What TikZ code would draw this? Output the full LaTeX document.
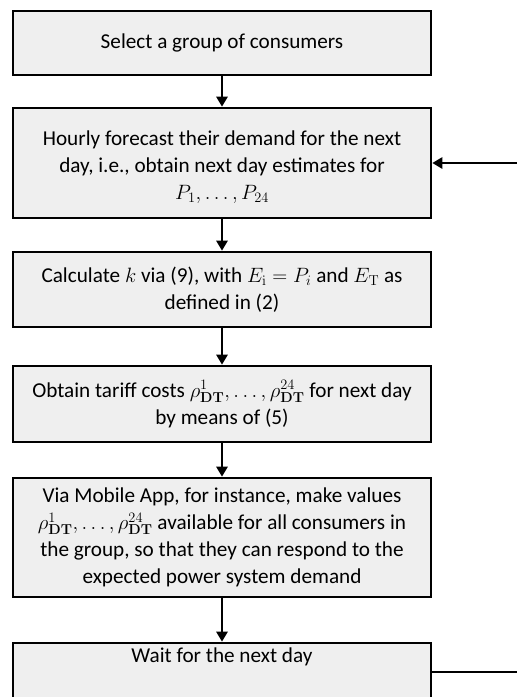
\documentclass[tikz,border=0pt]{standalone}
\usepackage[no-math]{fontspec}
\setmainfont{Carlito}
\usetikzlibrary{arrows.meta}
\definecolor{boxgray}{HTML}{EFEFEF}
\tikzset{
  boxfont/.style={font=\fontsize{21.2}{27}\selectfont},
  stepbox/.style={draw=black, fill=boxgray, line width=2.6pt, minimum width=418pt,
    align=center, inner sep=0pt, boxfont},
  flow/.style={line width=2.6pt, -{Triangle[length=10pt,width=11pt]}},
}
\newcommand{\rhoDT}[1]{\rho_{\mathbf{DT}}^{#1}}
\begin{document}
\begin{tikzpicture}[x=1pt,y=-1pt]
\useasboundingbox (0,0) rectangle (517,697);
\node[stepbox, minimum height=64pt] (s1) at (222,43) {Select a group of consumers};
\node[stepbox, minimum height=110pt] (s2) at (222,163) {};
\node[boxfont, align=center] (s2t) at (222,167)
  {Hourly forecast their demand for the next\\ day, i.e., obtain next day estimates for\\ $P_1,\ldots,P_{24}$};
\node[stepbox, minimum height=75pt] (s3) at (222,289.5)
  {Calculate $k$ via (9), with $E_{\mathrm{i}}=P_i$ and $E_{\mathrm{T}}$ as\\ defined in (2)};
\node[stepbox, minimum height=76pt] (s4) at (222,404)
  {Obtain tariff costs $\rhoDT{1},\ldots,\rhoDT{24}$ for next day\\ by means of (5)};
\node[stepbox, minimum height=119pt] (s5) at (222,537.5)
  {Via Mobile App, for instance, make values\\ $\rhoDT{1},\ldots,\rhoDT{24}$ available for all consumers in\\ the group, so that they can respond to the\\ expected power system demand};
\node[stepbox, minimum height=58pt] (s6) at (222,672) {};
\node[boxfont] (s6t) at (222,657) {Wait for the next day};
\coordinate (fbout) at (517,672);
\coordinate (fbin) at (517,163);
\draw[flow] (s1) -- (s2);
\draw[flow] (s2) -- (s3);
\draw[flow] (s3) -- (s4);
\draw[flow] (s4) -- (s5);
\draw[flow] (s5) -- (s6);
\draw[line width=2.6pt] (s6.east) -- (fbout);
\draw[flow] (fbin) -- (s2.east);
\end{tikzpicture}
\end{document}
